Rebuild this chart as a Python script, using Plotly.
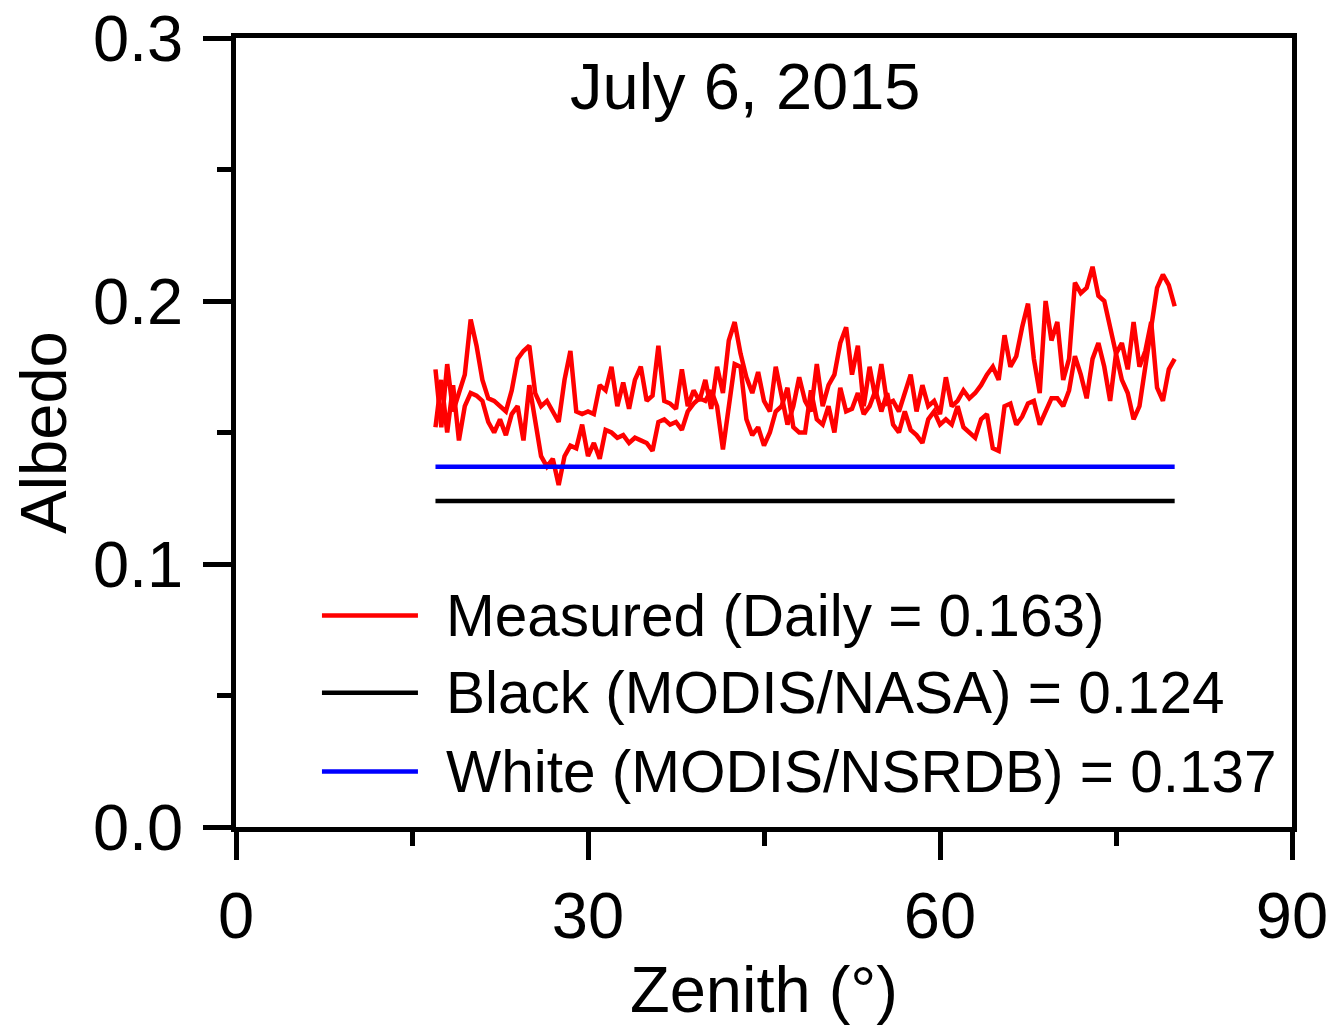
import plotly.graph_objects as go

# ---------------- data ----------------
zenith = [17.0, 17.5, 18.0, 18.5, 19.0, 19.5, 20.0, 20.5, 21.0, 21.5, 22.0, 22.5, 23.0, 23.5,
          24.0, 24.5, 25.0, 25.5, 26.0, 26.5, 27.0, 27.5, 28.0, 28.5, 29.0, 29.5, 30.0, 30.5,
          31.0, 31.5, 32.0, 32.5, 33.0, 33.5, 34.0, 34.5, 35.0, 35.5, 36.0, 36.5, 37.0, 37.5,
          38.0, 38.5, 39.0, 39.5, 40.0, 40.5, 41.0, 41.5, 42.0, 42.5, 43.0, 43.5, 44.0, 44.5,
          45.0, 45.5, 46.0, 46.5, 47.0, 47.5, 48.0, 48.5, 49.0, 49.5, 50.0, 50.5, 51.0, 51.5,
          52.0, 52.5, 53.0, 53.5, 54.0, 54.5, 55.0, 55.5, 56.0, 56.5, 57.0, 57.5, 58.0, 58.5,
          59.0, 59.5, 60.0, 60.5, 61.0, 61.5, 62.0, 62.5, 63.0, 63.5, 64.0, 64.5, 65.0, 65.5,
          66.0, 66.5, 67.0, 67.5, 68.0, 68.5, 69.0, 69.5, 70.0, 70.5, 71.0, 71.5, 72.0, 72.5,
          73.0, 73.5, 74.0, 74.5, 75.0, 75.5, 76.0, 76.5, 77.0, 77.5, 78.0, 78.5, 79.0, 79.5,
          80.0]

measured_am = [0.174, 0.152, 0.176, 0.158, 0.165, 0.172, 0.193, 0.183, 0.170, 0.163, 0.162, 0.160, 0.158, 0.166,
               0.178, 0.181, 0.183, 0.165, 0.160, 0.162, 0.158, 0.154, 0.170, 0.181, 0.158, 0.157, 0.158, 0.157,
               0.168, 0.166, 0.175, 0.160, 0.169, 0.159, 0.170, 0.175, 0.162, 0.164, 0.183, 0.162, 0.161, 0.159,
               0.174, 0.160, 0.166, 0.162, 0.170, 0.159, 0.175, 0.165, 0.185, 0.192, 0.180, 0.171, 0.165, 0.173,
               0.162, 0.158, 0.175, 0.164, 0.153, 0.160, 0.171, 0.162, 0.158, 0.176, 0.160, 0.168, 0.172, 0.184,
               0.190, 0.172, 0.183, 0.160, 0.175, 0.163, 0.176, 0.161, 0.162, 0.158, 0.165, 0.172, 0.158, 0.168,
               0.160, 0.162, 0.157, 0.171, 0.160, 0.162, 0.166, 0.163, 0.165, 0.168, 0.172, 0.175, 0.170, 0.187,
               0.175, 0.179, 0.190, 0.199, 0.178, 0.165, 0.200, 0.185, 0.192, 0.170, 0.178, 0.207, 0.203, 0.205,
               0.213, 0.202, 0.200, 0.190, 0.180, 0.170, 0.165, 0.155, 0.160, 0.175, 0.188, 0.205, 0.210, 0.206,
               0.198]

measured_pm = [0.152, 0.170, 0.150, 0.168, 0.147, 0.160, 0.165, 0.164, 0.162, 0.154, 0.150, 0.155, 0.149, 0.157,
               0.160, 0.147, 0.168, 0.155, 0.141, 0.137, 0.140, 0.130, 0.141, 0.145, 0.144, 0.153, 0.141, 0.146,
               0.140, 0.151, 0.150, 0.148, 0.149, 0.146, 0.148, 0.147, 0.146, 0.143, 0.154, 0.155, 0.153, 0.154,
               0.151, 0.158, 0.161, 0.163, 0.162, 0.166, 0.160, 0.1436, 0.160, 0.176, 0.175, 0.155, 0.149, 0.152,
               0.145, 0.150, 0.158, 0.160, 0.167, 0.152, 0.150, 0.150, 0.166, 0.155, 0.153, 0.160, 0.150, 0.167,
               0.158, 0.159, 0.165, 0.157, 0.160, 0.166, 0.158, 0.165, 0.153, 0.150, 0.158, 0.151, 0.149, 0.146,
               0.155, 0.158, 0.153, 0.155, 0.153, 0.160, 0.152, 0.150, 0.148, 0.155, 0.157, 0.144, 0.143, 0.160,
               0.161, 0.153, 0.156, 0.161, 0.162, 0.153, 0.158, 0.163, 0.163, 0.160, 0.166, 0.179, 0.172, 0.163,
               0.178, 0.184, 0.175, 0.162, 0.180, 0.184, 0.174, 0.192, 0.175, 0.181, 0.192, 0.167, 0.162, 0.174,
               0.178]

ref_range = [17.0, 80.0]
black_albedo = [0.124, 0.124]   # MODIS/NASA
white_albedo = [0.137, 0.137]   # MODIS/NSRDB

legend_labels = ["Measured (Daily = 0.163)",
                 "Black (MODIS/NASA) = 0.124",
                 "White (MODIS/NSRDB) = 0.137"]
legend_colors = ["#ff0000", "#000000", "#0000ff"]

x_ticks = [0, 30, 60, 90]
y_ticks = [0.0, 0.1, 0.2, 0.3]
y_tick_text = ["0.0", "0.1", "0.2", "0.3"]
title_text = "July 6, 2015"

FONT = "Liberation Sans, Arial, sans-serif"

fig = go.Figure()
fig.add_trace(go.Scatter(x=zenith, y=measured_am, mode="lines",
                         line=dict(color="#ff0000", width=4.5), showlegend=False))
fig.add_trace(go.Scatter(x=zenith, y=measured_pm, mode="lines",
                         line=dict(color="#ff0000", width=4.5), showlegend=False))
fig.add_trace(go.Scatter(x=ref_range, y=black_albedo, mode="lines",
                         line=dict(color="#000000", width=4.5), showlegend=False))
fig.add_trace(go.Scatter(x=ref_range, y=white_albedo, mode="lines",
                         line=dict(color="#0000ff", width=4.5), showlegend=False))

# manual legend (long sample lines as in the reference)
leg_y = [0.268, 0.170, 0.0705]
for lab, col, yy in zip(legend_labels, legend_colors, leg_y):
    fig.add_shape(type="line", xref="paper", yref="paper",
                  x0=0.0814, x1=0.1723, y0=yy, y1=yy,
                  line=dict(color=col, width=4.5))
    fig.add_annotation(xref="paper", yref="paper", x=0.197, y=yy,
                       text=lab, showarrow=False, xanchor="left", yanchor="middle",
                       font=dict(family=FONT, size=58.5, color="black"))

fig.add_annotation(x=43.4, y=0.2815, text=title_text, showarrow=False,
                   xanchor="center", yanchor="middle",
                   font=dict(family=FONT, size=65, color="black"))

axis_common = dict(showgrid=False, zeroline=False, showline=True, linecolor="black",
                   linewidth=4.5, mirror=True, ticks="outside", ticklen=28, tickwidth=4.5,
                   tickcolor="black", automargin=False, ticklabeloverflow="allow",
                   tickfont=dict(family=FONT, size=65, color="black"))

fig.update_xaxes(range=[0, 90], tickvals=x_ticks, ticktext=[str(v) for v in x_ticks],
                 minor=dict(dtick=15, tick0=0, ticks="outside", ticklen=14, tickwidth=4.5, tickcolor="black"),
                 ticklabelstandoff=0,
                 title=dict(text="Zenith (°)", font=dict(family=FONT, size=65, color="black"), standoff=25),
                 **axis_common)
fig.update_yaxes(range=[0, 0.3], tickvals=y_ticks, ticktext=y_tick_text,
                 minor=dict(dtick=0.05, tick0=0, ticks="outside", ticklen=14, tickwidth=4.5, tickcolor="black"),
                 ticklabelstandoff=7,
                 title=dict(text="Albedo", font=dict(family=FONT, size=65, color="black"), standoff=7),
                 **axis_common)

fig.update_layout(width=1332, height=1026, margin=dict(l=236, r=40, t=38, b=199),
                  plot_bgcolor="white", paper_bgcolor="white",
                  font=dict(family=FONT, color="black"))

fig.write_html("out.html")
